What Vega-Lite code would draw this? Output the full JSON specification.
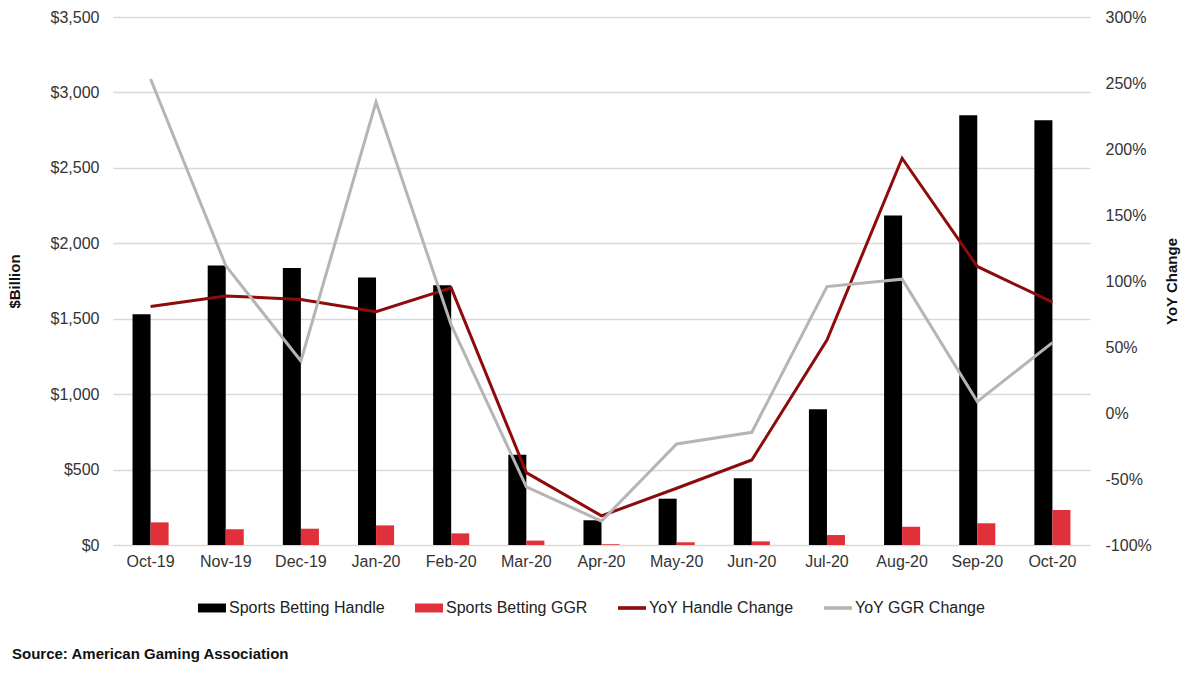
{
  "$schema": "https://vega.github.io/schema/vega-lite/v6.json",
  "width": 977,
  "height": 528,
  "autosize": {"type": "none"},
  "padding": {"left": 113, "top": 17, "right": 110, "bottom": 131},
  "background": "white",
  "title": {
    "text": "Source: American Gaming Association",
    "orient": "bottom",
    "anchor": "start",
    "frame": "group",
    "dx": -101,
    "offset": 31,
    "baseline": "top",
    "font": "Liberation Sans, Arial, sans-serif",
    "fontSize": 15,
    "fontWeight": "bold",
    "color": "#111111"
  },
  "config": {
    "view": {"stroke": null},
    "font": "Liberation Sans, Arial, sans-serif",
    "axis": {
      "labelFont": "Liberation Sans, Arial, sans-serif",
      "labelFontSize": 16,
      "labelColor": "#333333",
      "titleFont": "Liberation Sans, Arial, sans-serif",
      "titleFontSize": 15,
      "titleFontWeight": "bold",
      "titleColor": "#111111"
    }
  },
  "data": {
    "values": [
      {"month": "Oct-19", "series": "Sports Betting Handle", "value": 1530},
      {"month": "Nov-19", "series": "Sports Betting Handle", "value": 1852},
      {"month": "Dec-19", "series": "Sports Betting Handle", "value": 1837},
      {"month": "Jan-20", "series": "Sports Betting Handle", "value": 1773},
      {"month": "Feb-20", "series": "Sports Betting Handle", "value": 1722},
      {"month": "Mar-20", "series": "Sports Betting Handle", "value": 599},
      {"month": "Apr-20", "series": "Sports Betting Handle", "value": 164},
      {"month": "May-20", "series": "Sports Betting Handle", "value": 307},
      {"month": "Jun-20", "series": "Sports Betting Handle", "value": 442},
      {"month": "Jul-20", "series": "Sports Betting Handle", "value": 900},
      {"month": "Aug-20", "series": "Sports Betting Handle", "value": 2184},
      {"month": "Sep-20", "series": "Sports Betting Handle", "value": 2849},
      {"month": "Oct-20", "series": "Sports Betting Handle", "value": 2816},
      {"month": "Oct-19", "series": "Sports Betting GGR", "value": 150},
      {"month": "Nov-19", "series": "Sports Betting GGR", "value": 104},
      {"month": "Dec-19", "series": "Sports Betting GGR", "value": 108},
      {"month": "Jan-20", "series": "Sports Betting GGR", "value": 130},
      {"month": "Feb-20", "series": "Sports Betting GGR", "value": 77},
      {"month": "Mar-20", "series": "Sports Betting GGR", "value": 29},
      {"month": "Apr-20", "series": "Sports Betting GGR", "value": 5},
      {"month": "May-20", "series": "Sports Betting GGR", "value": 18},
      {"month": "Jun-20", "series": "Sports Betting GGR", "value": 24},
      {"month": "Jul-20", "series": "Sports Betting GGR", "value": 66},
      {"month": "Aug-20", "series": "Sports Betting GGR", "value": 121},
      {"month": "Sep-20", "series": "Sports Betting GGR", "value": 144},
      {"month": "Oct-20", "series": "Sports Betting GGR", "value": 232},
      {"month": "Oct-19", "series": "YoY Handle Change", "value": 0.806},
      {"month": "Nov-19", "series": "YoY Handle Change", "value": 0.887},
      {"month": "Dec-19", "series": "YoY Handle Change", "value": 0.86},
      {"month": "Jan-20", "series": "YoY Handle Change", "value": 0.768},
      {"month": "Feb-20", "series": "YoY Handle Change", "value": 0.948},
      {"month": "Mar-20", "series": "YoY Handle Change", "value": -0.452},
      {"month": "Apr-20", "series": "YoY Handle Change", "value": -0.779},
      {"month": "May-20", "series": "YoY Handle Change", "value": -0.57},
      {"month": "Jun-20", "series": "YoY Handle Change", "value": -0.356},
      {"month": "Jul-20", "series": "YoY Handle Change", "value": 0.553},
      {"month": "Aug-20", "series": "YoY Handle Change", "value": 1.93},
      {"month": "Sep-20", "series": "YoY Handle Change", "value": 1.11},
      {"month": "Oct-20", "series": "YoY Handle Change", "value": 0.84},
      {"month": "Oct-19", "series": "YoY GGR Change", "value": 2.53},
      {"month": "Nov-19", "series": "YoY GGR Change", "value": 1.117},
      {"month": "Dec-19", "series": "YoY GGR Change", "value": 0.394},
      {"month": "Jan-20", "series": "YoY GGR Change", "value": 2.356},
      {"month": "Feb-20", "series": "YoY GGR Change", "value": 0.667},
      {"month": "Mar-20", "series": "YoY GGR Change", "value": -0.559},
      {"month": "Apr-20", "series": "YoY GGR Change", "value": -0.819},
      {"month": "May-20", "series": "YoY GGR Change", "value": -0.235},
      {"month": "Jun-20", "series": "YoY GGR Change", "value": -0.146},
      {"month": "Jul-20", "series": "YoY GGR Change", "value": 0.958},
      {"month": "Aug-20", "series": "YoY GGR Change", "value": 1.014},
      {"month": "Sep-20", "series": "YoY GGR Change", "value": 0.086},
      {"month": "Oct-20", "series": "YoY GGR Change", "value": 0.533}
    ]
  },
  "encoding": {
    "x": {
      "field": "month",
      "type": "nominal",
      "sort": null,
      "scale": {"paddingInner": 0.52, "paddingOuter": 0.26},
      "axis": {"title": null, "labelAngle": 0, "ticks": false, "domain": false, "labelPadding": 8}
    },
    "color": {
      "field": "series",
      "type": "nominal",
      "scale": {
        "domain": ["Sports Betting Handle", "Sports Betting GGR", "YoY Handle Change", "YoY GGR Change"],
        "range": ["#000000", "#e0303a", "#8e0b0b", "#b5b5b5"]
      },
      "legend": {
        "title": null,
        "orient": "none",
        "legendX": 85,
        "legendY": 577,
        "direction": "horizontal",
        "columns": 4,
        "columnPadding": 30,
        "symbolSize": 784,
        "labelOffset": 3,
        "labelFont": "Liberation Sans, Arial, sans-serif",
        "labelFontSize": 16,
        "labelColor": "#222222",
        "encode": {
          "symbols": {
            "update": {
              "shape": {"signal": "indexof(['YoY Handle Change','YoY GGR Change'], datum.value) >= 0 ? 'M-1,-0.13H1V0.13H-1Z' : 'M-1,-0.32H1V0.32H-1Z'"},
              "strokeWidth": {"value": 0}
            }
          }
        }
      }
    }
  },
  "layer": [
    {
      "transform": [{"filter": "datum.series === 'Sports Betting Handle' || datum.series === 'Sports Betting GGR'"}],
      "mark": {"type": "bar"},
      "encoding": {
        "xOffset": {
          "field": "series",
          "type": "nominal",
          "sort": ["Sports Betting Handle", "Sports Betting GGR"],
          "scale": {"paddingInner": 0, "paddingOuter": 0}
        },
        "y": {
          "field": "value",
          "type": "quantitative",
          "scale": {"domain": [0, 3500], "nice": false},
          "axis": {
            "title": "$Billion",
            "values": [0, 500, 1000, 1500, 2000, 2500, 3000, 3500],
            "format": "$,.0f",
            "ticks": false,
            "domain": false,
            "labelPadding": 14,
            "grid": true,
            "gridColor": "#d9d9d9",
            "gridWidth": 1.5,
            "titleX": -99,
            "titleY": 264,
            "titleAngle": -90,
            "titleAlign": "center",
            "titleBaseline": "middle"
          }
        }
      }
    },
    {
      "transform": [{"filter": "datum.series === 'YoY Handle Change' || datum.series === 'YoY GGR Change'"}],
      "mark": {"type": "line", "strokeWidth": 3},
      "encoding": {
        "y": {
          "field": "value",
          "type": "quantitative",
          "scale": {"domain": [-1, 3], "nice": false},
          "axis": {
            "orient": "right",
            "title": "YoY Change",
            "values": [-1, -0.5, 0, 0.5, 1, 1.5, 2, 2.5, 3],
            "format": ".0%",
            "labelExpr": "replace(datum.label, '\u2212', '-')",
            "ticks": false,
            "domain": false,
            "grid": false,
            "labelPadding": 15,
            "titleX": 81,
            "titleY": 264,
            "titleAngle": -90,
            "titleAlign": "center",
            "titleBaseline": "middle"
          }
        }
      }
    }
  ],
  "resolve": {"scale": {"y": "independent"}}
}
